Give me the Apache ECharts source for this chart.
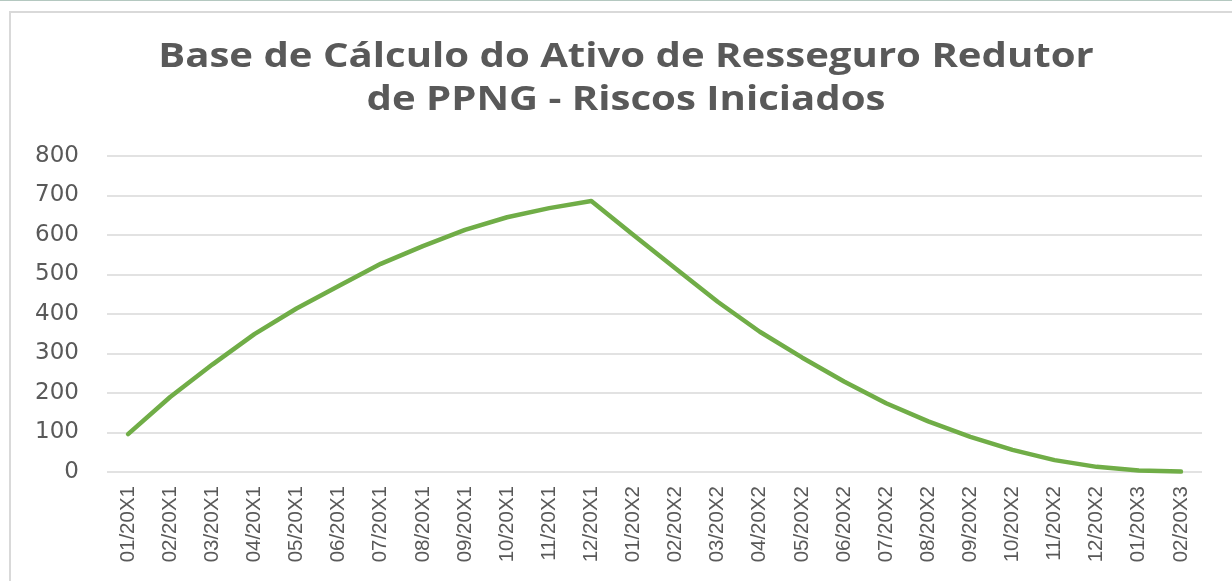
<!DOCTYPE html>
<html>
<head>
<meta charset="utf-8">
<style>html,body{margin:0;padding:0;background:#fff;}#c{width:1232px;height:581px;}</style>
<script src="https://cdn.jsdelivr.net/npm/echarts@6/dist/echarts.min.js"></script>
</head>
<body>
<div id="c"></div>
<script>
const titleLines = ['Base de Cálculo do Ativo de Resseguro Redutor', 'de PPNG - Riscos Iniciados'];
const categories = ['01/20X1','02/20X1','03/20X1','04/20X1','05/20X1','06/20X1','07/20X1','08/20X1','09/20X1','10/20X1','11/20X1','12/20X1',
  '01/20X2','02/20X2','03/20X2','04/20X2','05/20X2','06/20X2','07/20X2','08/20X2','09/20X2','10/20X2','11/20X2','12/20X2',
  '01/20X3','02/20X3'];
const values = [96,190,272,349,414,471,527,572,613,645,668,686,600,515,431,355,290,229,174,128,89,56,30,13,4,1];
const yTicks = [0,100,200,300,400,500,600,700,800];

const titleStyle = {fontFamily:'Open Sans', fontWeight:'bold', fontSize:34, fill:'#595959', align:'center', verticalAlign:'middle'};
const chart = echarts.init(document.getElementById('c'), null, {renderer:'canvas'});
chart.setOption({
  animation: false,
  backgroundColor: '#ffffff',
  graphic: [
    {type:'rect', shape:{x:0,y:0,width:1232,height:1}, style:{fill:'#b4c8c0'}, silent:true},
    {type:'rect', shape:{x:10,y:12,width:1240,height:600}, style:{fill:'none', stroke:'#d9d9d9', lineWidth:2}, silent:true},
    {type:'text', x:626, y:57, scaleX:1.18, style:Object.assign({text:titleLines[0]}, titleStyle), silent:true},
    {type:'text', x:626, y:100, scaleX:1.18, style:Object.assign({text:titleLines[1]}, titleStyle), silent:true}
  ],
  grid: {left:107, right:30, top:156, bottom:109, containLabel:false},
  xAxis: {
    type:'category', data: categories, boundaryGap:true,
    axisLine:{show:false}, axisTick:{show:false},
    axisLabel:{rotate:90, interval:0, margin:14, fontFamily:'Liberation Sans', fontSize:20.5, color:'#595959'}
  },
  yAxis: {
    type:'value', min: yTicks[0], max: yTicks[yTicks.length-1], interval: 100,
    axisLine:{show:false}, axisTick:{show:false},
    axisLabel:{margin:28, fontFamily:'DejaVu Sans', fontSize:23, color:'#595959'},
    splitLine:{lineStyle:{color:'#d9d9d9', width:1.5}}
  },
  series: [{
    type:'line', data: values, symbol:'none', smooth:false,
    lineStyle:{color:'#70ad47', width:4.5, cap:'round', join:'round'}
  }]
});
</script>
</body>
</html>
